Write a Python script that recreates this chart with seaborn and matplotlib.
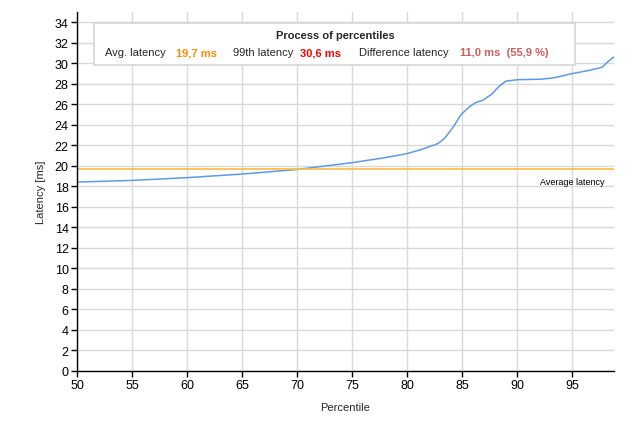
import matplotlib
matplotlib.use("Agg")
import matplotlib.pyplot as plt
import seaborn as sns
import pandas as pd
from matplotlib.patches import Rectangle

percentiles = [50, 55, 60, 65, 70, 75, 78, 80, 81.3, 82.8, 83.4, 84.2, 84.9, 85.7, 86.3, 86.9,
               87.7, 88.4, 89.0, 90.1, 92.2, 93.4, 94.9, 96.5, 97.7, 98.3, 99.0]
latency_ms = [18.42, 18.58, 18.85, 19.2, 19.65, 20.31, 20.8, 21.2, 21.6, 22.17, 22.67, 23.8, 25.0,
              25.8, 26.2, 26.4, 27.0, 27.8, 28.27, 28.4, 28.45, 28.6, 28.97, 29.3, 29.6, 30.2, 30.8]
avg_latency = 19.7
title_text = "Process of percentiles"
legend_items = [
    ("Avg. latency", "19,7 ms", "#ff8c00"),
    ("99th latency", "30,6 ms", "#ff0000"),
    ("Difference latency", "11,0 ms  (55,9 %)", "#cd5c5c"),
]
x_ticks = [50, 55, 60, 65, 70, 75, 80, 85, 90, 95]
y_ticks = list(range(0, 35, 2))

sns.set_theme(style="white")
plt.rcParams["font.family"] = ["Liberation Sans", "DejaVu Sans"]

W, H = 633, 431
fig = plt.figure(figsize=(W / 100, H / 100), dpi=100)
ax = fig.add_axes([77 / W, 1 - 372 / H, (614 - 77) / W, (372 - 13) / H])

df = pd.DataFrame({"Percentile": percentiles, "Latency": latency_ms})
sns.lineplot(data=df, x="Percentile", y="Latency", ax=ax, color="#5b9bef", linewidth=1.1)
ax.axhline(avg_latency, color="#ffb940", linewidth=1.2, zorder=2)
ax.text(97.9, 18.5, "Average latency", ha="right", va="center", fontsize=6.5, color="black")

ax.set_xlim(50, 98.8)
ax.set_ylim(0, 35.0)
ax.set_xticks(x_ticks)
ax.set_yticks(y_ticks)
ax.grid(True, color="#d9d9d9", linewidth=1.0)
ax.set_axisbelow(True)
for s in ["top", "right"]:
    ax.spines[s].set_visible(False)
for s in ["left", "bottom"]:
    ax.spines[s].set_color("black")
    ax.spines[s].set_linewidth(1.0)
ax.tick_params(axis="both", direction="out", length=4, width=1, colors="black", labelsize=9,
               bottom=True, left=True, pad=2)
ax.set_xlabel("Percentile", fontsize=8, labelpad=8)
ax.set_ylabel("Latency [ms]", fontsize=8, labelpad=6)

# legend box
box = Rectangle((94 / W, 1 - 66 / H), (575 - 94) / W, (66 - 24) / H, transform=fig.transFigure,
                facecolor="white", edgecolor="#d6d6d6", linewidth=1.2, zorder=5)
fig.add_artist(box)
fig.text(335 / W, 1 - 36 / H, title_text, ha="center", va="center", fontsize=8,
         fontweight="bold", zorder=6)
label_x = [105, 233, 359]
value_x = [176, 300, 460]
for (lab, val, col), lx, vx in zip(legend_items, label_x, value_x):
    fig.text(lx / W, 1 - 53 / H, lab, ha="left", va="center", fontsize=8, zorder=6)
    fig.text(vx / W, 1 - 53 / H, val, ha="left", va="center", fontsize=8, fontweight="bold",
             color=col, zorder=6)

fig.savefig("out.png", dpi=100)
